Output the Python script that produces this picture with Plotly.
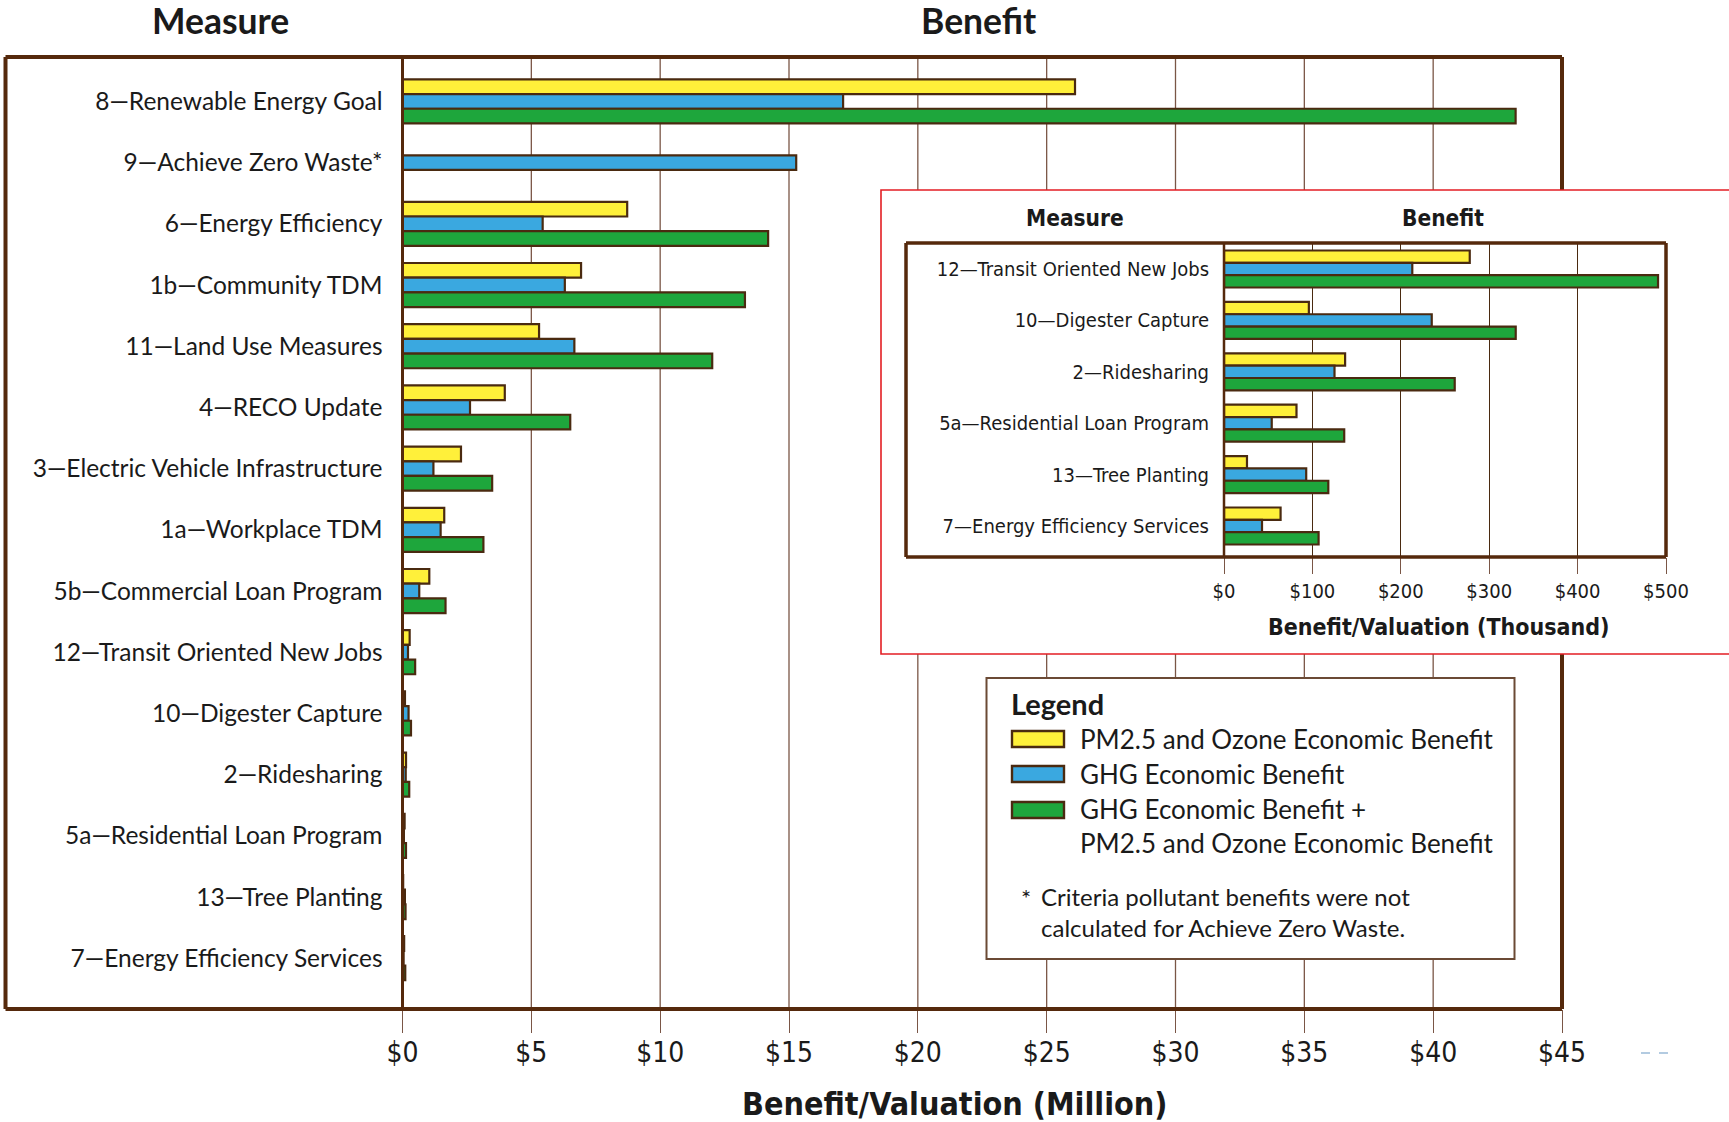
import plotly.graph_objects as go

W, H = 1729, 1122

# ---------------- data ----------------
measures = [
    "8—Renewable Energy Goal", "9—Achieve Zero Waste*", "6—Energy Efficiency",
    "1b—Community TDM", "11—Land Use Measures", "4—RECO Update",
    "3—Electric Vehicle Infrastructure", "1a—Workplace TDM",
    "5b—Commercial Loan Program", "12—Transit Oriented New Jobs",
    "10—Digester Capture", "2—Ridesharing", "5a—Residential Loan Program",
    "13—Tree Planting", "7—Energy Efficiency Services",
]
pm_million = [26.1, None, 8.72, 6.93, 5.30, 3.97, 2.27, 1.62, 1.04,
              0.278, 0.096, 0.137, 0.082, 0.026, 0.064]
ghg_million = [17.1, 15.28, 5.44, 6.30, 6.67, 2.62, 1.20, 1.48, 0.65,
               0.213, 0.235, 0.125, 0.054, 0.093, 0.043]
total_million = [43.2, None, 14.19, 13.29, 12.02, 6.51, 3.48, 3.14, 1.67,
                 0.491, 0.330, 0.261, 0.136, 0.118, 0.107]
main_ticks = [0, 5, 10, 15, 20, 25, 30, 35, 40, 45]
main_ticktext = ["$0", "$5", "$10", "$15", "$20", "$25", "$30", "$35", "$40", "$45"]

inset_measures = [
    "12—Transit Oriented New Jobs", "10—Digester Capture", "2—Ridesharing",
    "5a—Residential Loan Program", "13—Tree Planting", "7—Energy Efficiency Services",
]
inset_pm_thousand = [278, 96, 137, 82, 26, 64]
inset_ghg_thousand = [213, 235, 125, 54, 93, 43]
inset_total_thousand = [491, 330, 261, 136, 118, 107]
inset_ticks = [0, 100, 200, 300, 400, 500]
inset_ticktext = ["$0", "$100", "$200", "$300", "$400", "$500"]

series_names = [
    "PM2.5 and Ozone Economic Benefit",
    "GHG Economic Benefit",
    "GHG Economic Benefit +<br>PM2.5 and Ozone Economic Benefit",
]

# ---------------- style ----------------
YELLOW, BLUE, GREEN = "#FFF03A", "#3AA8E0", "#1EA63C"
COLORS = [YELLOW, BLUE, GREEN]
OUTLINE = "#4A2A10"
FRAME = "#55290C"
GRID = "#7A5646"
LABEL_FONT = "Lato, 'Open Sans', sans-serif"
NARROW = "'Liberation Sans Narrow', 'DejaVu Sans Condensed', sans-serif"
TEXT = "#1a1a1a"


def px(x):
    return x / W


def py(y):
    return 1 - y / H


# layout boxes in pixel space
MAIN = dict(x0=402.5, x1=1562, y0=57, y1=1009, left=5.5)
INSET_RED = dict(x0=881, x1=W + 4, y0=190, y1=654)
INSET = dict(x0=906, x1=1666, y0=243, y1=557, axis=1224)
LEG = dict(x0=986.5, x1=1514.5, y0=678, y1=959)

fig = go.Figure()

main_series = [pm_million, ghg_million, total_million]
inset_series = [inset_pm_thousand, inset_ghg_thousand, inset_total_thousand]
for name, col, vals in zip(series_names, COLORS, main_series):
    fig.add_trace(go.Bar(
        y=measures, x=vals, orientation="h", name=name,
        marker=dict(color=col, line=dict(color=OUTLINE, width=2.2)),
        xaxis="x", yaxis="y", showlegend=False,
    ))
for name, col, vals in zip(series_names, COLORS, inset_series):
    fig.add_trace(go.Bar(
        y=inset_measures, x=vals, orientation="h", name=name,
        marker=dict(color=col, line=dict(color=OUTLINE, width=2.2)),
        xaxis="x2", yaxis="y2", showlegend=False,
    ))

shapes = []


def pline(x0, y0, x1, y1, color=FRAME, width=4, dash=None):
    d = dict(type="line", xref="paper", yref="paper",
             x0=px(x0), y0=py(y0), x1=px(x1), y1=py(y1),
             line=dict(color=color, width=width), layer="above")
    if dash:
        d["line"]["dash"] = dash
    shapes.append(d)


# main gridlines (segmented around the inset and legend boxes)
xscale = (MAIN["x1"] - MAIN["x0"]) / (main_ticks[-1] - main_ticks[0])
for v in main_ticks[1:-1]:
    gx = MAIN["x0"] + v * xscale
    segs = [(MAIN["y0"], MAIN["y1"])]
    for box in (INSET_RED, LEG):
        if box["x0"] <= gx <= box["x1"]:
            new = []
            for a, b in segs:
                if box["y1"] <= a or box["y0"] >= b:
                    new.append((a, b))
                else:
                    if a < box["y0"]:
                        new.append((a, box["y0"]))
                    if b > box["y1"]:
                        new.append((box["y1"], b))
            segs = new
    for a, b in segs:
        shapes.append(dict(type="line", xref="x", yref="paper",
                           x0=v, x1=v, y0=py(a), y1=py(b),
                           line=dict(color=GRID, width=1.3), layer="below"))

# main frame
pline(MAIN["left"], MAIN["y0"], MAIN["x1"], MAIN["y0"])
pline(MAIN["left"], MAIN["y1"], MAIN["x1"], MAIN["y1"])
pline(MAIN["left"], MAIN["y0"], MAIN["left"], MAIN["y1"])
pline(MAIN["x1"], MAIN["y0"], MAIN["x1"], INSET_RED["y0"])
pline(MAIN["x1"], INSET_RED["y1"], MAIN["x1"], MAIN["y1"])
pline(MAIN["x0"], MAIN["y0"], MAIN["x0"], MAIN["y1"], width=3)

# inset red box
shapes.append(dict(type="rect", xref="paper", yref="paper",
                   x0=px(INSET_RED["x0"]), x1=px(INSET_RED["x1"]),
                   y0=py(INSET_RED["y0"]), y1=py(INSET_RED["y1"]),
                   line=dict(color="#E31E24", width=1.6), layer="above"))
# inset frame
pline(INSET["x0"], INSET["y0"], INSET["x1"], INSET["y0"], width=3.5)
pline(INSET["x0"], INSET["y1"], INSET["x1"], INSET["y1"], width=3.5)
pline(INSET["x0"], INSET["y0"], INSET["x0"], INSET["y1"], width=3.5)
pline(INSET["x1"], INSET["y0"], INSET["x1"], INSET["y1"], width=3.5)
pline(INSET["axis"], INSET["y0"], INSET["axis"], INSET["y1"], width=2.5)

# legend box
shapes.append(dict(type="rect", xref="paper", yref="paper",
                   x0=px(LEG["x0"]), x1=px(LEG["x1"]),
                   y0=py(LEG["y0"]), y1=py(LEG["y1"]),
                   line=dict(color="#6B4A35", width=2), layer="above"))
sw_y = [739, 774, 810]
for col, yy in zip(COLORS, sw_y):
    shapes.append(dict(type="rect", xref="paper", yref="paper",
                       x0=px(1012), x1=px(1064), y0=py(yy - 8), y1=py(yy + 8),
                       fillcolor=col, line=dict(color=OUTLINE, width=2.4), layer="above"))

# faint dashed mark at lower right
pline(1641, 1053, 1674, 1053, color="#9BBBD8", width=1.5, dash="dash")

annotations = []


def ann(text, x, y, size, family, bold=False, xanchor="center", color=TEXT):
    annotations.append(dict(
        text=f"<b>{text}</b>" if bold else text,
        x=px(x), y=py(y), xref="paper", yref="paper",
        xanchor=xanchor, yanchor="middle", showarrow=False,
        font=dict(size=size, family=family, color=color), align="left",
    ))


ann("Measure", 220, 21, 35.5, LABEL_FONT, bold=True)
ann("Benefit", 979, 21, 35.5, LABEL_FONT, bold=True)
ann("Benefit/Valuation (Million)", 954, 1104, 32, NARROW, bold=True)

ann("Measure", 1075, 218, 22.5, NARROW, bold=True)
ann("Benefit", 1443, 218, 22.5, NARROW, bold=True)
ann("Benefit/Valuation (Thousand)", 1439, 627, 23, NARROW, bold=True)

ann("Legend", 1009, 703, 29, LABEL_FONT, bold=True, xanchor="left")
leg_text_y = [739, 774, 826]
for name, yy in zip(series_names, leg_text_y):
    ann(name, 1078, yy, 26, LABEL_FONT, xanchor="left")
ann("*", 1019, 897, 24, LABEL_FONT, xanchor="left")
ann("Criteria pollutant benefits were not<br>calculated for Achieve Zero Waste.",
    1039, 912, 24, LABEL_FONT, xanchor="left")

fig.update_layout(
    template="none",
    width=W, height=H, autosize=False,
    margin=dict(l=0, r=0, t=0, b=0, pad=0),
    paper_bgcolor="white", plot_bgcolor="rgba(0,0,0,0)",
    barmode="group", bargap=0.28, bargroupgap=0,
    showlegend=False,
    shapes=shapes, annotations=annotations,
    xaxis=dict(
        domain=[px(MAIN["x0"]), px(MAIN["x1"])], range=[0, 45], anchor="y",
        automargin=False,
        tickvals=main_ticks, ticktext=main_ticktext,
        ticks="outside", ticklen=23, tickwidth=1.3, tickcolor=GRID,
        showgrid=False, zeroline=False, showline=False,
        tickfont=dict(size=28, family=NARROW, color=TEXT),
    ),
    yaxis=dict(
        domain=[py(MAIN["y1"]), py(MAIN["y0"])], range=[14.83, -0.726],
        anchor="x", type="category", categoryorder="array", categoryarray=measures,
        automargin=False,
        showgrid=False, zeroline=False, showline=False, ticks="",
        ticklabelstandoff=19,
        tickfont=dict(size=24.5, family=LABEL_FONT, color=TEXT),
    ),
    xaxis2=dict(
        domain=[px(INSET["axis"]), px(INSET["x1"])], range=[0, 500], anchor="y2",
        automargin=False,
        tickvals=inset_ticks, ticktext=inset_ticktext,
        ticks="outside", ticklen=16, tickwidth=1.3, tickcolor=GRID,
        showgrid=True, gridcolor=OUTLINE, gridwidth=1.3,
        zeroline=False, showline=False,
        tickfont=dict(size=20, family=NARROW, color=TEXT),
    ),
    yaxis2=dict(
        domain=[py(INSET["y1"]), py(INSET["y0"])], range=[5.603, -0.506],
        anchor="x2", type="category", categoryorder="array", categoryarray=inset_measures,
        automargin=False,
        showgrid=False, zeroline=False, showline=False, ticks="",
        ticklabelstandoff=14,
        tickfont=dict(size=20, family=NARROW, color=TEXT),
    ),
)

try:
    fig.update_xaxes(ticklabelstandoff=-5, selector=dict(anchor="y"))
except ValueError:
    pass

fig.write_html("out.html")
